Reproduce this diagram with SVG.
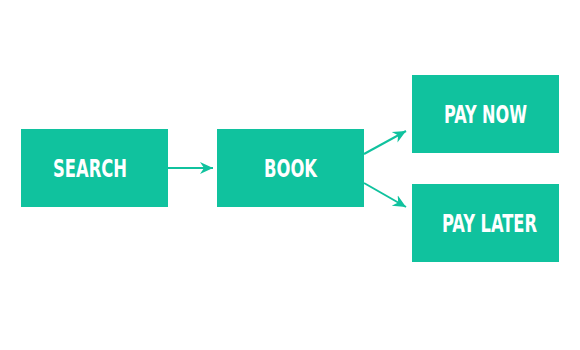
<svg xmlns="http://www.w3.org/2000/svg" width="580" height="350" viewBox="0 0 580 350">
<defs>
<style>
.box{fill:#10C29E}
.lbl{fill:#ffffff;font-family:"DejaVu Sans Condensed","DejaVu Sans",sans-serif;font-stretch:condensed;font-weight:bold;font-size:24px}
.conn{stroke:#10C29E;stroke-width:2;fill:none}
</style>
<marker id="ah" markerUnits="userSpaceOnUse" markerWidth="14" markerHeight="14" refX="13" refY="7" orient="auto" viewBox="0 0 14 14">
<path d="M0,1 L13,7 L0,13 L4,7 Z" fill="#10C29E"/>
</marker>
</defs>
<rect width="580" height="350" fill="#ffffff"/>
<g id="connectors">
<line class="conn" x1="168" y1="168" x2="213" y2="168" marker-end="url(#ah)"/>
<line class="conn" x1="364" y1="154" x2="406" y2="131" marker-end="url(#ah)"/>
<line class="conn" x1="364" y1="183" x2="406" y2="207" marker-end="url(#ah)"/>
</g>
<g id="search">
<rect class="box" x="21" y="129" width="147" height="78"/>
<text class="lbl" x="53" y="177" textLength="74" lengthAdjust="spacingAndGlyphs">SEARCH</text>
</g>
<g id="book">
<rect class="box" x="217" y="129" width="147" height="78"/>
<text class="lbl" x="264" y="177" textLength="53" lengthAdjust="spacingAndGlyphs">BOOK</text>
</g>
<g id="pay-now">
<rect class="box" x="412" y="75" width="147" height="78"/>
<text class="lbl" x="444" y="123" textLength="83" lengthAdjust="spacingAndGlyphs">PAY NOW</text>
</g>
<g id="pay-later">
<rect class="box" x="412" y="184" width="147" height="78"/>
<text class="lbl" x="442" y="232" textLength="95" lengthAdjust="spacingAndGlyphs">PAY LATER</text>
</g>
</svg>
